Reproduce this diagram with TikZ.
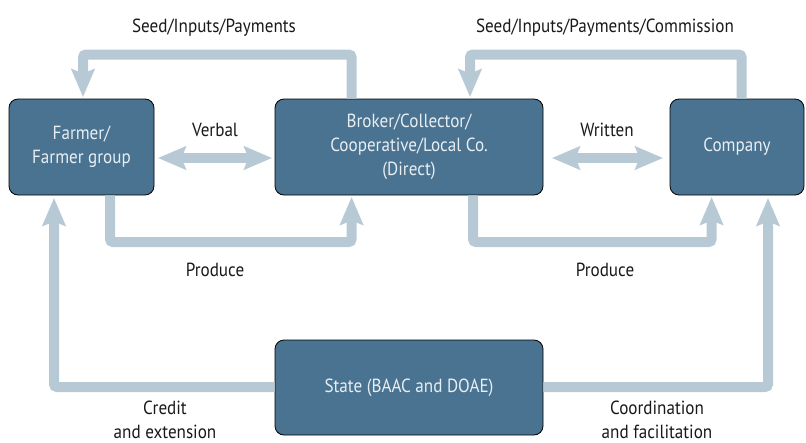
\documentclass[tikz,border=0pt]{standalone}
\usepackage{fontspec}
\setmainfont[FakeStretch=0.9]{PT Sans}
\usetikzlibrary{arrows.meta}
\definecolor{boxblue}{RGB}{74,115,145}
\definecolor{flowblue}{RGB}{183,201,213}
\definecolor{boxtext}{RGB}{232,238,242}

\begin{document}
\begin{tikzpicture}[x=1pt,y=-1pt,
  actor/.style={draw=black, line width=0.8pt, fill=boxblue, rounded corners=9pt,
    text=boxtext, align=center, inner sep=0pt,
    font=\fontsize{19}{24}\selectfont},
  tip/.tip={Stealth[length=28pt,width=24pt,inset=5pt,line width=0.01pt]},
  flow/.style={draw=flowblue, line width=10pt, rounded corners=3pt, -tip},
  twoway/.style={flow, tip-tip},
  lbl/.style={font=\fontsize{19}{24}\selectfont, align=center, text=black!90,
    inner sep=0pt, anchor=base}
]
\useasboundingbox (0,0) rectangle (806,442);

% actors
\node[actor, minimum width=145pt, minimum height=96pt] (farmer) at (81.5,147) {Farmer/\\Farmer group};
\node[actor, minimum width=268pt, minimum height=96pt] (broker) at (409,147) {Broker/Collector/\\Cooperative/Local Co.\\(Direct)};
\node[actor, minimum width=134pt, minimum height=96pt] (company) at (737,147) {Company};
\node[actor, minimum width=268pt, minimum height=95pt] (state) at (409,387.5) {State (BAAC and DOAE)};

% bend points of the flows
\coordinate (seedL) at (83,54.5);
\coordinate (seedR) at (470,54.5);
\coordinate (prodL) at (110,242);
\coordinate (prodR) at (473,242);
\coordinate (credit) at (54,387);
\coordinate (coord) at (768,387);

% goods and money between the actors
\draw[flow] ([xshift=77pt]broker.north west) |- (seedL) -- ([yshift=2pt]farmer.north -| seedL);
\draw[flow] ([xshift=72pt]company.north west) |- (seedR) -- ([yshift=2pt]broker.north -| seedR);
\draw[flow] (farmer.south -| prodL) -- (prodL) -| ([xshift=77pt,yshift=-2pt]broker.south west);
\draw[flow] (broker.south -| prodR) -- (prodR) -| ([xshift=42pt,yshift=-2pt]company.south west);

% contracts
\draw[twoway] ([xshift=4pt,yshift=-11pt]farmer.east) -- ([xshift=-3pt,yshift=-11pt]broker.west);
\draw[twoway] ([xshift=9pt,yshift=-11pt]broker.east) -- ([xshift=-7pt,yshift=-11pt]company.west);

% state support
\draw[flow] (state.west |- credit) -- (credit) -- ([yshift=-3pt]farmer.south -| credit);
\draw[flow] (state.east |- coord) -- (coord) -- ([yshift=-3pt]company.south -| coord);

% labels (placed by their last baseline)
\node[lbl] (l1) at (214,32) {Seed/Inputs/Payments};
\node[lbl] (l2) at (605,32) {Seed/Inputs/Payments/Commission};
\node[lbl] (l3) at (215,136) {Verbal};
\node[lbl] (l4) at (607,136) {Written};
\node[lbl] (l5) at (215,276) {Produce};
\node[lbl] (l6) at (605,276) {Produce};
\node[lbl] (l7) at (165,438) {Credit\\and extension};
\node[lbl] (l8) at (657,438) {Coordination\\and facilitation};
\end{tikzpicture}
\end{document}
